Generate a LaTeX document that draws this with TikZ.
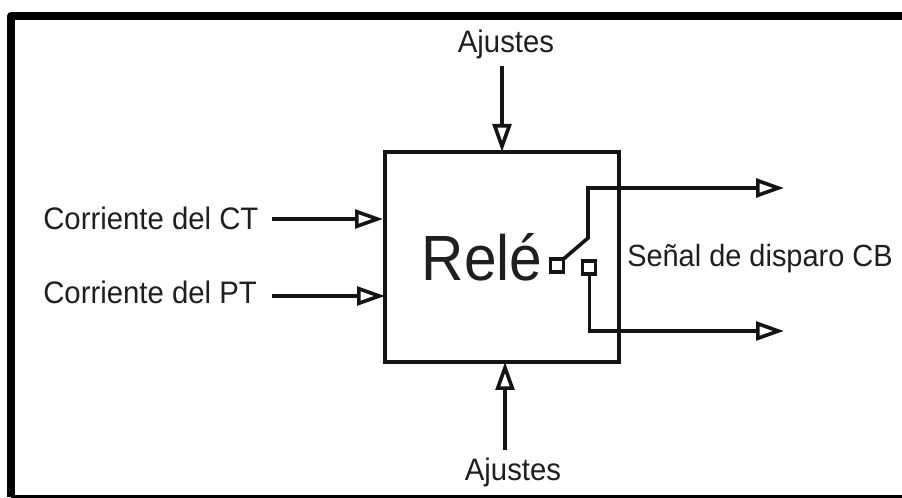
\documentclass[tikz,border=0pt]{standalone}
\usepackage{graphicx}
\usepackage{fontspec}
\setmainfont{Liberation Sans}
\usetikzlibrary{arrows.meta}
\newcommand{\tallertext}[2]{\scalebox{1}[#1]{#2}}
\tikzset{
  lab/.style={inner sep=0pt,anchor=base,font=\fontsize{22pt}{24pt}\selectfont,text=black!88},
  wire/.style={line width=2.7pt,draw=black!92,line join=miter},
  arr/.style={wire,-{Triangle[open,length=21pt,width=14pt,line width=2.7pt]}},
  contact/.style={draw=black!92,line width=2.7pt,fill=white,minimum size=13*0.75pt,inner sep=0pt,outer sep=0pt},
}
\begin{document}
\begin{tikzpicture}[x=0.75pt,y=-0.75pt]
\useasboundingbox (0,0) rectangle (902,498);
\fill[white] (0,0) rectangle (902,498);
\coordinate (fbl) at (11,497);
\coordinate (ftl) at (11,16);
\coordinate (ftr) at (902,16);
\coordinate (fbr) at (902,497);
\draw[line width=6pt,line join=round] (fbl) -- (ftl) -- (ftr);
\draw[line width=2.4pt] (fbl) -- (fbr);
\node[draw=black!92,line width=2.7pt,minimum width=234*0.75pt,minimum height=210*0.75pt,inner sep=0pt,outer sep=0pt,anchor=north west] (rele) at (385,152) {};
\node[lab] (a1) at (506,53) {\tallertext{1.06}{Ajustes}};
\node[lab] (a2) at (513,480) {\tallertext{1.06}{Ajustes}};
\node[lab,anchor=base west] (ct) at (43,230) {\tallertext{1.06}{Corriente del CT}};
\node[lab,anchor=base west] (pt) at (43,304) {\tallertext{1.06}{Corriente del PT}};
\node[lab,anchor=base west,font=\fontsize{21.7pt}{24pt}\selectfont] (sd) at (627,267) {\tallertext{1.06}{Señal de disparo CB}};
\node[inner sep=0pt,anchor=base,text=black!88,font=\fontsize{44pt}{50pt}\selectfont] (rt) at (482,281) {\tallertext{1.09}{Relé}};
\coordinate (ct1) at (272,219);
\coordinate (pt1) at (272,296);
\coordinate (ct2) at (383,219);
\coordinate (pt2) at (385,296);
\coordinate (a1a) at (502,66);
\coordinate (a1b) at (502,152);
\coordinate (a2a) at (505,450);
\coordinate (a2b) at (505,362);
\draw[arr] (ct1) -- (ct2);
\draw[arr] (pt1) -- (pt2);
\draw[arr] (a1a) -- (a1b);
\draw[arr] (a2a) -- (a2b);
\node[contact] (c1) at (557,265.5) {};
\node[contact] (c2) at (589,267.5) {};
\coordinate (s1) at (588,238);
\coordinate (s2) at (588,188);
\coordinate (o1) at (784,188);
\coordinate (s3) at (589.5,331);
\coordinate (o2) at (784,331);
\draw[arr] (c1.north east) -- (s1) -- (s2) -- (o1);
\draw[arr] (c2.south) -- (c2.south -| s3) -- (s3) -- (o2);
\end{tikzpicture}
\end{document}
